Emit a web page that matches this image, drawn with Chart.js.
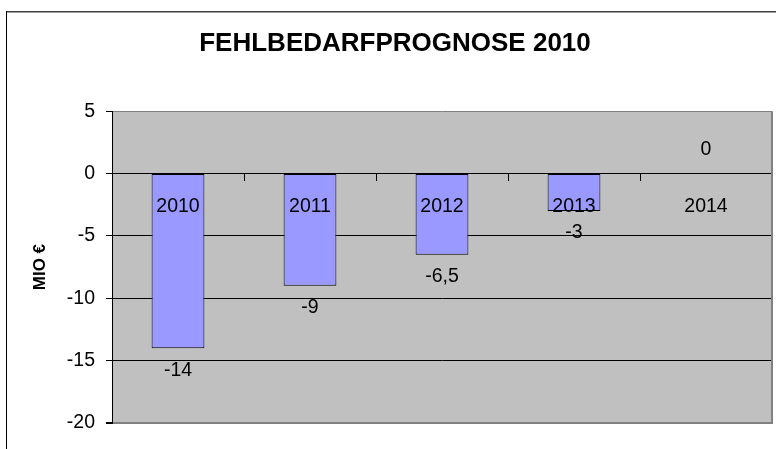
<!DOCTYPE html>
<html>
<head>
<meta charset="utf-8">
<title>Fehlbedarfprognose 2010</title>
<script src="https://cdn.jsdelivr.net/npm/chart.js@4/dist/chart.umd.min.js"></script>
<style>
  html, body { margin: 0; padding: 0; background: #fff; }
  #wrap { width: 776px; height: 449px; position: relative; }
</style>
</head>
<body>
<div id="wrap"><canvas id="chart"></canvas></div>
<script>
const years = ['2010', '2011', '2012', '2013', '2014'];
const shortfall = [-14, -9, -6.5, -3, 0];
const yTicks = [-20, -15, -10, -5, 0, 5];

Chart.defaults.font.family = '"Liberation Sans", Arial, sans-serif';
Chart.defaults.color = '#000';

// grey plot area plus the outer chart frame (cut off at right/bottom like the original)
const frame = {
    id: 'frame',
    beforeDraw(chart) {
        const {ctx, chartArea: a} = chart;
        ctx.save();
        ctx.fillStyle = '#c0c0c0';
        ctx.fillRect(a.left, a.top, a.right - a.left, a.bottom - a.top);
        ctx.strokeStyle = '#404040';
        ctx.lineWidth = 1.5;
        ctx.beginPath();
        ctx.moveTo(6, 11.75);
        ctx.lineTo(776, 11.75);
        ctx.stroke();
        ctx.strokeStyle = '#000';
        ctx.lineWidth = 1;
        ctx.beginPath();
        ctx.moveTo(6.5, 11);
        ctx.lineTo(6.5, 449);
        ctx.stroke();
        ctx.restore();
    },
    afterDraw(chart) {
        const {ctx, chartArea: a} = chart;
        ctx.save();
        ctx.strokeStyle = '#808080';
        ctx.lineWidth = 2;
        ctx.beginPath();
        ctx.moveTo(a.right, a.top);
        ctx.lineTo(a.right, a.bottom + 1);
        ctx.stroke();
        ctx.restore();
    }
};

// value labels under the bars (above the axis for zero), German decimal comma
const valueLabels = {
    id: 'valueLabels',
    afterDatasetsDraw(chart) {
        const {ctx} = chart;
        const meta = chart.getDatasetMeta(0);
        ctx.save();
        ctx.font = '19.5px "Liberation Sans", Arial, sans-serif';
        ctx.fillStyle = '#000';
        ctx.textAlign = 'center';
        ctx.textBaseline = 'middle';
        meta.data.forEach((bar, i) => {
            const v = shortfall[i];
            const y = v < 0 ? bar.y + 22 : bar.base - 24;
            ctx.fillText(String(v).replace('.', ','), bar.x, y);
        });
        ctx.restore();
    }
};

new Chart(document.getElementById('chart'), {
    type: 'bar',
    data: {
        labels: years,
        datasets: [{
            data: shortfall,
            backgroundColor: '#9999ff',
            borderColor: '#000',
            borderWidth: c => (c.raw === 0 ? 0 : 1),
            borderSkipped: false,
            barPercentage: 0.4,
            categoryPercentage: 1
        }]
    },
    options: {
        responsive: true,
        maintainAspectRatio: false,
        animation: false,
        layout: { padding: { left: 18, right: 4, top: 0, bottom: 26 } },
        plugins: {
            legend: { display: false },
            tooltip: { enabled: false },
            title: {
                display: true,
                text: 'FEHLBEDARFPROGNOSE 2010',
                color: '#000',
                font: { size: 26, weight: 'bold' },
                padding: { top: 28, bottom: 52 }
            }
        },
        scales: {
            x: {
                position: { y: 0 },
                offset: true,
                // category axis sits on the zero line, drawn over the bars
                grid: { z: 1, drawOnChartArea: false, drawTicks: true, tickLength: 7, color: '#000', offset: true },
                border: { z: 1, color: '#000', width: 1 },
                ticks: { z: 1, color: '#000', font: { size: 19.5 }, padding: 14, maxRotation: 0 }
            },
            y: {
                min: -20,
                max: 5,
                afterBuildTicks: s => { s.ticks = yTicks.map(value => ({ value })); },
                afterFit: s => { s.width = 94; },
                grid: {
                    color: c => (c.tick && (c.tick.value === 5 || c.tick.value === -20) ? '#808080' : '#000'),
                    lineWidth: c => (c.tick && c.tick.value === -20 ? 2 : 1),
                    tickColor: '#000',
                    tickLength: 6
                },
                border: { color: '#000', width: 1 },
                ticks: { color: '#000', font: { size: 19.5 }, padding: 11 },
                title: {
                    display: true,
                    text: 'MIO €',
                    color: '#000',
                    font: { size: 17, weight: 'bold' },
                    padding: { top: 12, bottom: 0 }
                }
            }
        }
    },
    plugins: [frame, valueLabels]
});
</script>
</body>
</html>
